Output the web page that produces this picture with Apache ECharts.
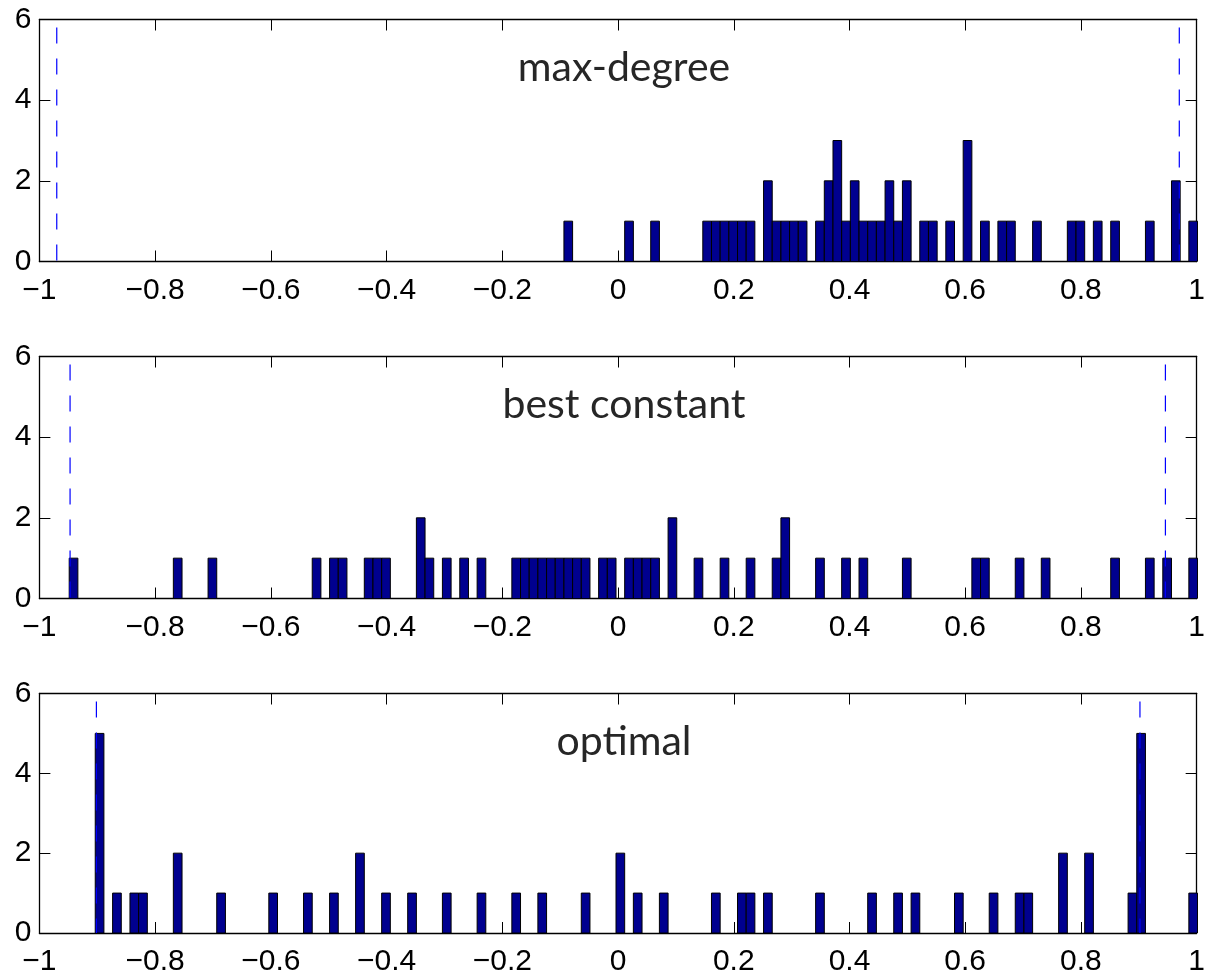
<!DOCTYPE html>
<html>
<head>
<meta charset="utf-8">
<script src="https://cdn.jsdelivr.net/npm/echarts@6/dist/echarts.min.js"></script>
<style>
html,body{margin:0;padding:0;background:#fff;}
#chart{width:1208px;height:977px;}
</style>
</head>
<body>
<div id="chart"></div>
<script>
// ---- data (histogram bin centers and counts) ----
const BIN_WIDTH = 0.015;
const panelTitles = ['max-degree', 'best constant', 'optimal'];
const xTicks = [-1, -0.8, -0.6, -0.4, -0.2, 0, 0.2, 0.4, 0.6, 0.8, 1];
const yTicks = [0, 2, 4, 6];

const maxDegreeCenters = [-0.086, 0.019, 0.064, 0.154, 0.169, 0.184, 0.199, 0.214, 0.229, 0.259, 0.274, 0.289, 0.304, 0.319, 0.349, 0.364, 0.379, 0.394, 0.409, 0.424, 0.439, 0.454, 0.469, 0.484, 0.499, 0.529, 0.544, 0.574, 0.604, 0.634, 0.664, 0.679, 0.724, 0.784, 0.799, 0.829, 0.859, 0.919, 0.964, 0.994];
const maxDegreeCounts  = [1, 1, 1, 1, 1, 1, 1, 1, 1, 2, 1, 1, 1, 1, 1, 2, 3, 1, 2, 1, 1, 1, 2, 1, 2, 1, 1, 1, 3, 1, 1, 1, 1, 1, 1, 1, 1, 1, 2, 1];

const bestConstCenters = [-0.941, -0.761, -0.701, -0.521, -0.491, -0.476, -0.431, -0.416, -0.401, -0.341, -0.326, -0.296, -0.266, -0.236, -0.176, -0.161, -0.146, -0.131, -0.116, -0.101, -0.086, -0.071, -0.056, -0.026, -0.011, 0.019, 0.034, 0.049, 0.064, 0.094, 0.139, 0.184, 0.229, 0.274, 0.289, 0.349, 0.394, 0.424, 0.499, 0.619, 0.634, 0.694, 0.739, 0.859, 0.919, 0.949, 0.994];
const bestConstCounts  = [1, 1, 1, 1, 1, 1, 1, 1, 1, 2, 1, 1, 1, 1, 1, 1, 1, 1, 1, 1, 1, 1, 1, 1, 1, 1, 1, 1, 1, 2, 1, 1, 1, 1, 2, 1, 1, 1, 1, 1, 1, 1, 1, 1, 1, 1, 1];

const optimalCenters = [-0.896, -0.866, -0.836, -0.821, -0.761, -0.686, -0.596, -0.536, -0.491, -0.446, -0.401, -0.356, -0.296, -0.236, -0.176, -0.131, -0.056, 0.004, 0.034, 0.079, 0.169, 0.214, 0.229, 0.259, 0.349, 0.439, 0.484, 0.514, 0.589, 0.649, 0.694, 0.709, 0.769, 0.814, 0.889, 0.904, 0.994];
const optimalCounts  = [5, 1, 1, 1, 2, 1, 1, 1, 1, 2, 1, 1, 1, 1, 1, 1, 1, 2, 1, 1, 1, 1, 1, 1, 1, 1, 1, 1, 1, 1, 1, 1, 2, 2, 1, 5, 1];

// dashed markers at -rho and +rho for each panel
const dashLeft  = [-0.970, -0.947, -0.9015];
const dashRight = [0.970, 0.946, 0.902];

// ---- chart construction ----
const centersAll = [maxDegreeCenters, bestConstCenters, optimalCenters];
const countsAll = [maxDegreeCounts, bestConstCounts, optimalCounts];

const GRID_LEFT = 39.4, GRID_WIDTH = 1163.2, GRID_H = 242;
const GRID_TOPS = [19.5, 356.5, 693.5];
const TICK_FONT = "'Liberation Sans', Arial, sans-serif";

function fmtX(v) {
  const r = Math.round(v * 10) / 10;
  const s = String(Math.abs(r));
  return r < 0 ? '\u2212' + s : s;
}

function renderBar(params, api) {
  const c = api.value(0), n = api.value(1);
  const p0 = api.coord([c - BIN_WIDTH / 2, n]);
  const p1 = api.coord([c + BIN_WIDTH / 2, 0]);
  return {
    type: 'rect',
    shape: { x: p0[0], y: p0[1], width: p1[0] - p0[0], height: p1[1] - p0[1] },
    style: { fill: '#00008f', stroke: '#000000', lineWidth: 1 }
  };
}

const grids = [], xAxes = [], yAxes = [], series = [], graphics = [];
const axisLineStyle = { color: '#000', width: 1.3 };
for (let i = 0; i < 3; i++) {
  grids.push({ left: GRID_LEFT, width: GRID_WIDTH, top: GRID_TOPS[i], height: GRID_H });
  const xBase = {
    type: 'value', gridIndex: i, min: xTicks[0], max: xTicks[xTicks.length - 1], interval: 0.2,
    axisLine: { show: true, onZero: false, lineStyle: axisLineStyle },
    axisTick: { show: true, inside: true, length: 11, lineStyle: { color: '#000', width: 1 } },
    splitLine: { show: false }
  };
  xAxes.push(Object.assign({}, xBase, {
    position: 'bottom',
    axisLabel: { show: true, formatter: fmtX, fontFamily: TICK_FONT, fontSize: 30, color: '#000', margin: 14, showMinLabel: true, showMaxLabel: true, interval: 0 }
  }));
  xAxes.push(Object.assign({}, xBase, { position: 'top', axisLabel: { show: false } }));
  const yBase = {
    type: 'value', gridIndex: i, min: yTicks[0], max: yTicks[yTicks.length - 1], interval: 2,
    axisLine: { show: true, onZero: false, lineStyle: axisLineStyle },
    axisTick: { show: true, inside: true, length: 11, lineStyle: { color: '#000', width: 1 } },
    splitLine: { show: false }
  };
  yAxes.push(Object.assign({}, yBase, {
    position: 'left',
    axisLabel: { show: true, fontFamily: TICK_FONT, fontSize: 30, color: '#000', margin: 8, showMinLabel: true, showMaxLabel: true }
  }));
  yAxes.push(Object.assign({}, yBase, { position: 'right', axisLabel: { show: false } }));

  const data = centersAll[i].map((c, j) => [c, countsAll[i][j]]);
  series.push({
    type: 'custom', xAxisIndex: 2 * i, yAxisIndex: 2 * i,
    renderItem: renderBar, data: data, clip: true, z: 2, silent: true
  });
  [dashLeft[i], dashRight[i]].forEach(r => {
    series.push({
      type: 'line', xAxisIndex: 2 * i, yAxisIndex: 2 * i,
      data: [[r, yTicks[yTicks.length - 1]], [r, 0]],
      symbol: 'none', silent: true, z: 5, animation: false,
      lineStyle: { color: '#0000ff', width: 1.2, type: [16, 15], dashOffset: 23 }
    });
  });

  graphics.push({
    type: 'text', x: GRID_LEFT + GRID_WIDTH / 2 + 3, y: GRID_TOPS[i] + 48,
    style: { text: panelTitles[i], textAlign: 'center', textVerticalAlign: 'middle',
      fontFamily: "Lato, 'Open Sans', sans-serif", fontSize: 41, fill: '#262626' },
    z: 10
  });
}

const chart = echarts.init(document.getElementById('chart'), null, { renderer: 'canvas' });
chart.setOption({
  backgroundColor: '#ffffff',
  animation: false,
  grid: grids,
  xAxis: xAxes,
  yAxis: yAxes,
  series: series,
  graphic: graphics
});
</script>
</body>
</html>
